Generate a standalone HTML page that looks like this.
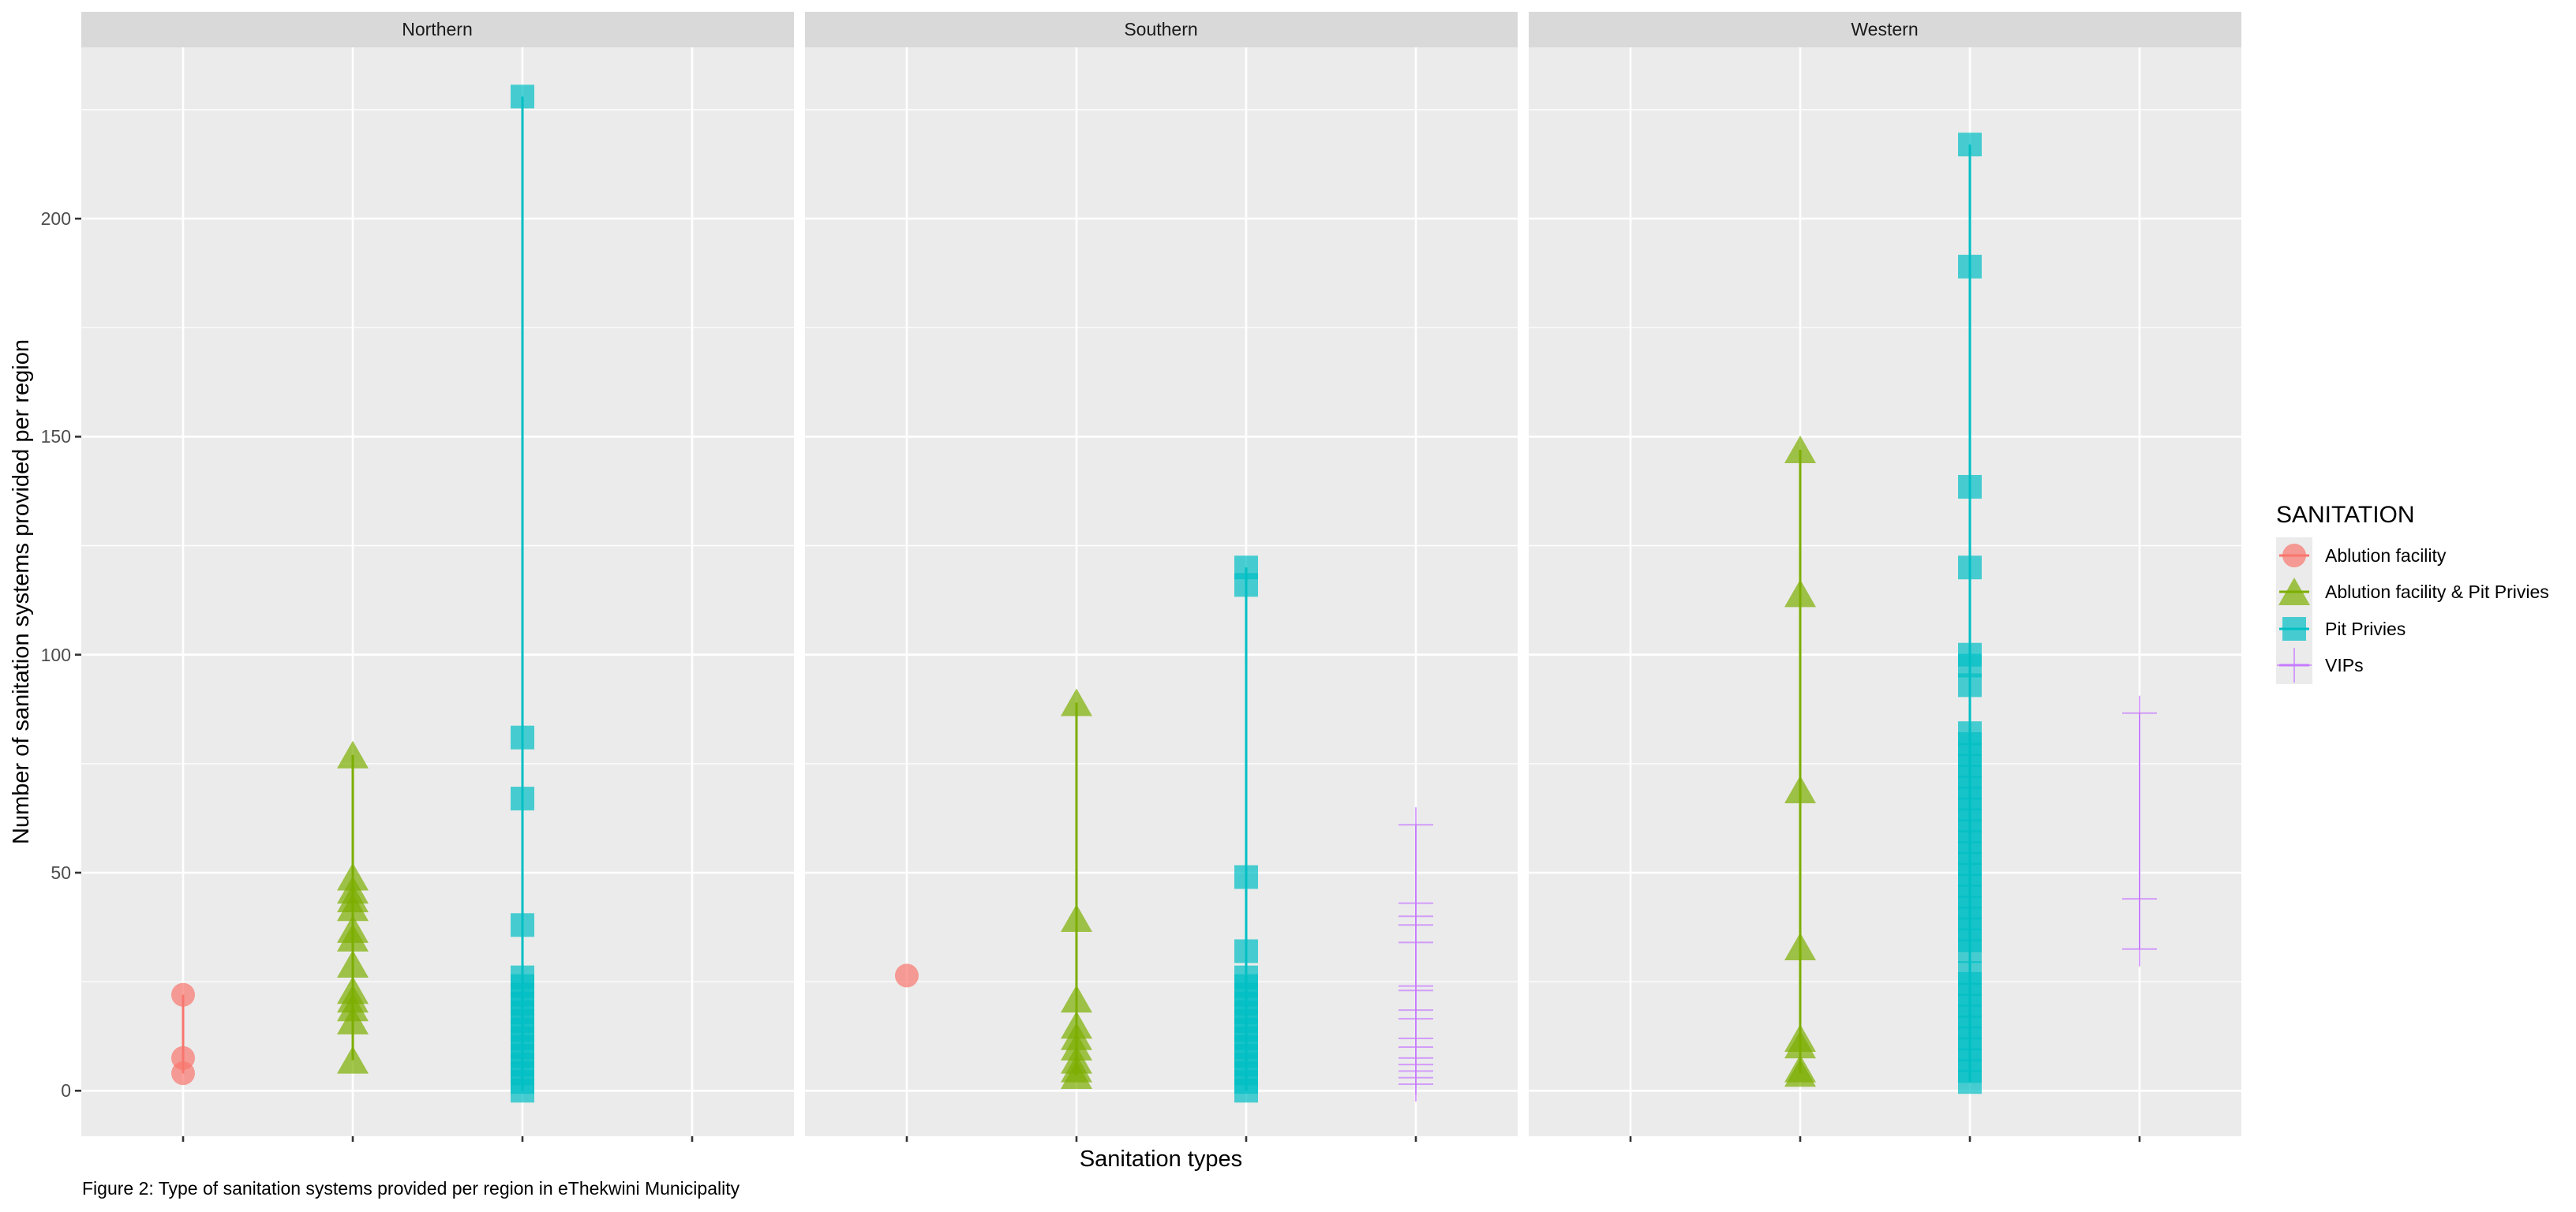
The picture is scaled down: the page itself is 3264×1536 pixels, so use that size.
<!DOCTYPE html>
<html><head><meta charset="utf-8"><style>
html,body{margin:0;padding:0;background:#fff;}
svg{display:block;font-family:"Liberation Sans",sans-serif;}
</style></head><body>
<svg id="s" width="3264" height="1536" viewBox="0 0 3264 1536" xmlns="http://www.w3.org/2000/svg">
<rect width="3264" height="1536" fill="#fff"/>
<g id="panels"></g>
<g font-size="23" fill="#4D4D4D" text-anchor="end">
<text x="90" y="1390">0</text>
<text x="90" y="1114">50</text>
<text x="90" y="838">100</text>
<text x="90" y="561">150</text>
<text x="90" y="285">200</text>
</g>
<g font-size="23" fill="#1A1A1A" text-anchor="middle">
<text x="554" y="45">Northern</text>
<text x="1471" y="45">Southern</text>
<text x="2388" y="45">Western</text>
</g>
<text x="1471" y="1478" font-size="29" text-anchor="middle" fill="#000">Sanitation types</text>
<text transform="translate(36,750) rotate(-90)" font-size="29" text-anchor="middle" fill="#000">Number of sanitation systems provided per region</text>
<text x="104" y="1514" font-size="23" fill="#000">Figure 2: Type of sanitation systems provided per region in eThekwini Municipality</text>
<text x="2884" y="662" font-size="30" fill="#000">SANITATION</text>
<rect x="2884" y="681" width="46" height="186" fill="#EBEBEB"/>
<g font-size="23" fill="#000">
<text x="2946" y="712">Ablution facility</text>
<text x="2946" y="758">Ablution facility &amp; Pit Privies</text>
<text x="2946" y="805">Pit Privies</text>
<text x="2946" y="851">VIPs</text>
</g>
<g id="leg"></g>
</svg>
<script>
const NS="http://www.w3.org/2000/svg";
function el(p,t,a){const e=document.createElementNS(NS,t);for(const k in a)e.setAttribute(k,a[k]);p.appendChild(e);return e;}
const P=document.getElementById('panels');
const Y=v=>1382.3-v*5.526;
const lefts=[103,1020,1937];
const C=["#F8766D","#7CAE00","#00BFC4","#C77CFF"];
function mark(g,k,x,y){
 if(k==0) el(g,'circle',{cx:x,cy:y,r:15,fill:C[0],'fill-opacity':0.7});
 else if(k==1) el(g,'polygon',{points:`${x-20},${y+17} ${x+20},${y+17} ${x},${y-18}`,fill:C[1],'fill-opacity':0.7});
 else if(k==2) el(g,'rect',{x:x-15,y:y-15,width:30,height:30,fill:C[2],'fill-opacity':0.7});
 else {el(g,'line',{x1:x-22,x2:x+22,y1:y,y2:y,stroke:C[3],'stroke-width':2,'stroke-opacity':0.7});
       el(g,'line',{x1:x,x2:x,y1:y-22,y2:y+22,stroke:C[3],'stroke-width':2,'stroke-opacity':0.7});}
}
function rng(a,b,s){const r=[];for(let v=a;v<=b;v+=s)r.push(v);return r;}
const data=[
 [[22,7.5,4],[77,49,46,44,42,37,35,29,23,21,19,16,7],[228,81,67,38,...rng(0,26,2)],[]],
 [[26.4],[89,39.5,21,15,12.4,10,7,5,3.5],[120,116,49,32,...rng(0,27,2)],[61,43,40,38,34,24,23,18.5,16.5,12,10,7.5,6,4.5,3,1.5]],
 [[],[147,114,69,33,12,10.5,5,4],[217,189,138.5,120,100,97.5,93,...rng(32,82,2.5),...rng(2,27,2.5)],[86.6,44,32.5]]
];
lefts.forEach((L,pi)=>{
 el(P,'rect',{x:L,y:15,width:903,height:45,fill:"#D9D9D9"});
 el(P,'rect',{x:L,y:60,width:903,height:1380,fill:"#EBEBEB"});
 for(let v=25;v<=225;v+=50) el(P,'line',{x1:L,x2:L+903,y1:Y(v),y2:Y(v),stroke:"#fff","stroke-width":1.3});
 for(let v=0;v<=200;v+=50) el(P,'line',{x1:L,x2:L+903,y1:Y(v),y2:Y(v),stroke:"#fff","stroke-width":2.6});
 for(let i=0;i<4;i++){const x=L+(0.6+i)*215;
  el(P,'line',{x1:x,x2:x,y1:60,y2:1440,stroke:"#fff","stroke-width":2.6});
  el(P,'line',{x1:x,x2:x,y1:1440,y2:1447,stroke:"#333","stroke-width":2.6});}
 const g=el(P,'g',{});
 for(let k=0;k<4;k++){const d=data[pi][k];if(!d.length)continue;const x=L+(0.6+k)*215;
  const mn=Math.min(...d),mx=Math.max(...d);
  el(g,'line',{x1:x,x2:x,y1:Y(mn),y2:Y(mx),stroke:C[k],"stroke-width":k==3?2:3});
  d.forEach(v=>mark(g,k,x,Y(v)));}
});
for(let v=0;v<=200;v+=50) el(P,'line',{x1:95,x2:103,y1:Y(v),y2:Y(v),stroke:"#333","stroke-width":2.6});
const lg=document.getElementById('leg');
[704,750,797,843].forEach((y,k)=>{mark(lg,k,2907,y);
 el(lg,'line',{x1:2888,x2:2926,y1:y,y2:y,stroke:C[k],"stroke-width":3});});
</script>
</body></html>
